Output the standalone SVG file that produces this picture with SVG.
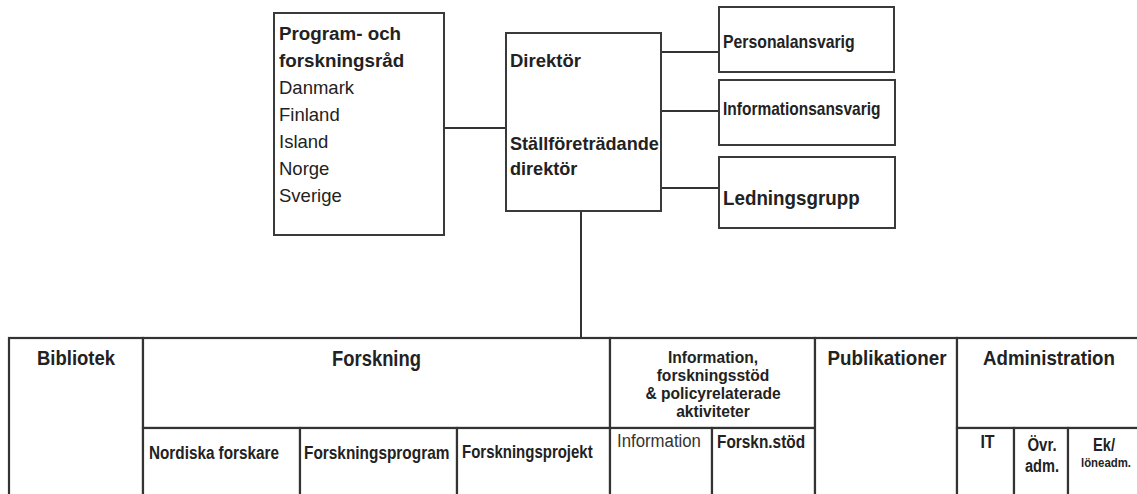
<svg xmlns="http://www.w3.org/2000/svg" width="1137" height="494" viewBox="0 0 1137 494">
<style>
  .box { fill: #fff; stroke: #3a3a3a; stroke-width: 2; }
  .cell { fill: #fff; stroke: #333; stroke-width: 2.2; }
  .con { stroke: #333; stroke-width: 2; fill: none; }
  text { font-family: "Liberation Sans", Arial, sans-serif; fill: #222; }
  .b { font-weight: bold; }
  .mid { text-anchor: middle; }
</style>
<rect width="1137" height="494" fill="#fff"/>
<g id="connectors">
  <line class="con" x1="444" y1="128" x2="506" y2="128"/>
  <line class="con" x1="661" y1="52" x2="719" y2="52"/>
  <line class="con" x1="661" y1="111" x2="719" y2="111"/>
  <line class="con" x1="661" y1="188" x2="719" y2="188"/>
  <line class="con" x1="581" y1="211" x2="581" y2="338"/>
</g>
<g id="program">
  <rect class="box" x="274" y="13" width="170" height="222"/>
  <text class="b" x="279" y="40" font-size="18.8">Program- och</text>
  <text class="b" x="279" y="67" font-size="18.8">forskningsråd</text>
  <text x="279" y="94" font-size="18.5">Danmark</text>
  <text x="279" y="121" font-size="18.5">Finland</text>
  <text x="279" y="148" font-size="18.5">Island</text>
  <text x="279" y="175" font-size="18.5">Norge</text>
  <text x="279" y="202" font-size="18.5">Sverige</text>
</g>
<g id="direktor">
  <rect class="box" x="506" y="33" width="155" height="178"/>
  <text class="b" x="510" y="67" font-size="18.5">Direktör</text>
  <text class="b" x="510" y="150" font-size="18.1">Ställföreträdande</text>
  <text class="b" x="510" y="175" font-size="18.1">direktör</text>
</g>
<g id="personalansvarig">
  <rect class="box" x="719" y="7" width="175" height="65"/>
  <text class="b" transform="translate(723 48) scale(1 1.15)" font-size="15.8">Personalansvarig</text>
</g>
<g id="informationsansvarig">
  <rect class="box" x="719" y="80" width="176" height="65"/>
  <text class="b" transform="translate(723 115) scale(1 1.15)" font-size="15.5">Informationsansvarig</text>
</g>
<g id="ledningsgrupp">
  <rect class="box" x="719" y="157" width="176" height="71"/>
  <text class="b" transform="translate(723 205) scale(1 1.12)" font-size="18.8">Ledningsgrupp</text>
</g>
<g id="bibliotek">
  <rect class="cell" x="9" y="338" width="134" height="170"/>
  <text class="b mid" transform="translate(76 365) scale(1 1.08)" font-size="18.5">Bibliotek</text>
</g>
<g id="forskning">
  <rect class="cell" x="143" y="338" width="467" height="90"/>
  <text class="b mid" transform="translate(376.5 366) scale(1 1.15)" font-size="18.4">Forskning</text>
</g>
<g id="nordiska-forskare">
  <rect class="cell" x="143" y="428" width="157" height="80"/>
  <text class="b" transform="translate(149 459) scale(1 1.2)" font-size="15.3">Nordiska forskare</text>
</g>
<g id="forskningsprogram">
  <rect class="cell" x="300" y="428" width="157" height="80"/>
  <text class="b" transform="translate(304 459) scale(1 1.2)" font-size="15.4">Forskningsprogram</text>
</g>
<g id="forskningsprojekt">
  <rect class="cell" x="457" y="428" width="153" height="80"/>
  <text class="b" transform="translate(462 458) scale(1 1.2)" font-size="15">Forskningsprojekt</text>
</g>
<g id="information-header">
  <rect class="cell" x="610" y="338" width="205" height="90"/>
  <text class="b mid" x="713" y="363" font-size="15.6">Information,</text>
  <text class="b mid" x="713" y="381" font-size="15.6">forskningsstöd</text>
  <text class="b mid" x="713" y="399" font-size="15.6">&amp; policyrelaterade</text>
  <text class="b mid" x="713" y="417" font-size="15.6">aktiviteter</text>
</g>
<g id="information">
  <rect class="cell" x="610" y="428" width="102" height="80"/>
  <text transform="translate(617 447) scale(1 1.1)" font-size="16.8" style="fill:#333">Information</text>
</g>
<g id="forskn-stod">
  <rect class="cell" x="712" y="428" width="103" height="80"/>
  <text class="b" transform="translate(717 448) scale(1 1.2)" font-size="15.4">Forskn.stöd</text>
</g>
<g id="publikationer">
  <rect class="cell" x="815" y="338" width="142" height="170"/>
  <text class="b mid" transform="translate(887 365) scale(1 1.08)" font-size="18.8">Publikationer</text>
</g>
<g id="administration">
  <rect class="cell" x="957" y="338" width="190" height="90"/>
  <text class="b mid" transform="translate(1049 365) scale(1 1.08)" font-size="18.7">Administration</text>
</g>
<g id="it">
  <rect class="cell" x="957" y="428" width="57" height="80"/>
  <text class="b mid" transform="translate(987.5 448) scale(1 1.2)" font-size="16">IT</text>
</g>
<g id="ovr-adm">
  <rect class="cell" x="1014" y="428" width="54" height="80"/>
  <text class="b mid" transform="translate(1042 451) scale(1 1.25)" font-size="15">Övr.</text>
  <text class="b mid" transform="translate(1042 472) scale(1 1.25)" font-size="14.6">adm.</text>
</g>
<g id="ek-loneadm">
  <rect class="cell" x="1068" y="428" width="79" height="80"/>
  <text class="b mid" transform="translate(1104 451) scale(1 1.3)" font-size="14.7">Ek/</text>
  <text class="b mid" transform="translate(1106 467) scale(1 1.2)" font-size="11.4">löneadm.</text>
</g>
</svg>
